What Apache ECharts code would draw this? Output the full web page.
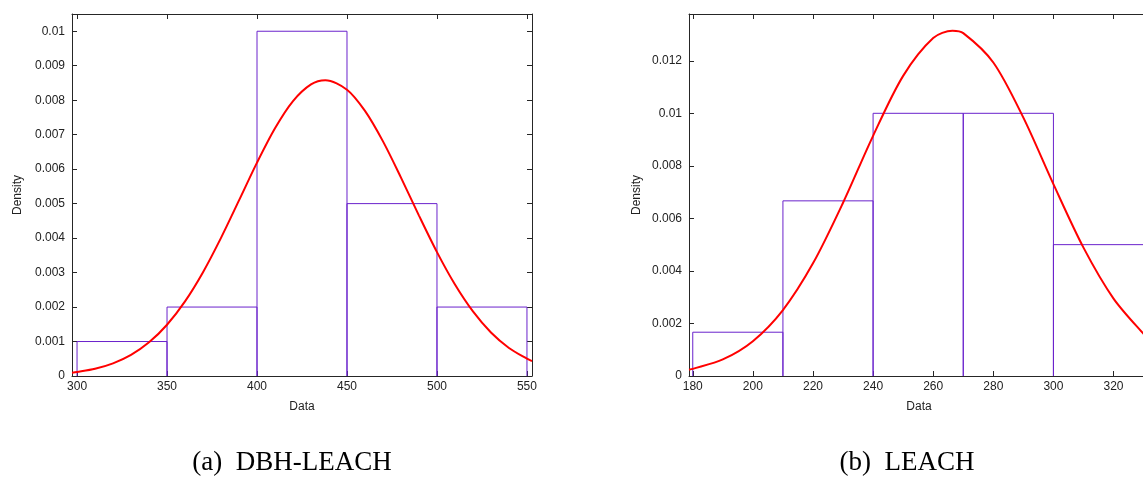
<!DOCTYPE html>
<html>
<head>
<meta charset="utf-8">
<script src="https://cdn.jsdelivr.net/npm/echarts@6/dist/echarts.min.js"></script>
<style>html,body{margin:0;padding:0;background:#fff;}#c{width:1143px;height:477px;}</style>
</head>
<body>
<div id="c"></div>
<script>
// ---------- DATA ----------
// (a) DBH-LEACH histogram bins: [start, end, density]
var binsA = [[300, 350, 0.001], [350, 400, 0.002], [400, 450, 0.010], [450, 500, 0.005], [500, 550, 0.002]];
// (a) fitted density curve: [x, density]
var curveA = [
  [297.2, 0.000095], [300, 0.000115], [310, 0.00021], [320, 0.000367], [330, 0.000612],
  [340, 0.000976], [350, 0.001487], [360, 0.002165], [370, 0.003012], [380, 0.004007],
  [390, 0.005093], [400, 0.006188], [410, 0.007185], [420, 0.007973], [430, 0.008457],
  [438, 0.00858], [450, 0.008305], [460, 0.007689], [470, 0.006805], [480, 0.005755],
  [490, 0.004653], [500, 0.003594], [510, 0.002654], [520, 0.001873], [530, 0.001263],
  [540, 0.000814], [550, 0.000502], [552.8, 0.00043]
];
var xTicksA = [300, 350, 400, 450, 500, 550];
var yTicksA = [0, 0.001, 0.002, 0.003, 0.004, 0.005, 0.006, 0.007, 0.008, 0.009, 0.01];

// (b) LEACH histogram bins
var binsB = [[180, 210, 0.001667], [210, 240, 0.006667], [240, 270, 0.010], [270, 300, 0.010], [300, 330, 0.005]];
var curveB = [
  [178.75, 0.000242], [180, 0.00027], [190, 0.00063], [200, 0.001326], [210, 0.002511],
  [220, 0.004288], [230, 0.006595], [240, 0.009143], [250, 0.011424], [260, 0.012863],
  [266.4, 0.01314], [270, 0.013052], [280, 0.011935], [290, 0.009834], [300, 0.007303],
  [310, 0.004887], [320, 0.002948], [330, 0.001602], [332, 0.0014]
];
var xTicksB = [180, 200, 220, 240, 260, 280, 300, 320];
var yTicksB = [0, 0.002, 0.004, 0.006, 0.008, 0.01, 0.012];

var captionA = '(a)  DBH-LEACH';
var captionB = '(b)  LEACH';
var xName = 'Data';
var yName = 'Density';

// ---------- CHART ----------
var AX = '#262626';
var BAR = '#6a22cc';
var RED = '#ff0000';
var labelFont = {fontFamily: 'Liberation Sans', fontSize: 12, color: '#222'};

// outline of each histogram bar, built from the bin arrays
function barOutlineSeries(bins, xi, yi) {
  return bins.map(function (b) {
    return {
      type: 'line', xAxisIndex: xi, yAxisIndex: yi,
      data: [[b[0], 0], [b[0], b[2]], [b[1], b[2]], [b[1], 0]],
      showSymbol: false, symbol: 'none', smooth: false, clip: true,
      lineStyle: {color: BAR, width: 1}, itemStyle: {color: BAR},
      emphasis: {disabled: true}, silent: true, z: 2
    };
  });
}

function xAx(grid, min, max, ticks, pos, showLabel, nameTxt, showLine) {
  return {
    type: 'value', gridIndex: grid, min: min, max: max, position: pos,
    splitLine: {show: false},
    axisLine: {show: showLine, onZero: false, lineStyle: {color: AX, width: 1}},
    axisTick: {show: showLine, inside: true, length: 5, lineStyle: {color: AX}, customValues: ticks},
    axisLabel: Object.assign({show: showLabel, margin: 5, customValues: ticks}, labelFont),
    name: nameTxt, nameLocation: 'middle', nameGap: 25,
    nameTextStyle: {fontFamily: 'Liberation Sans', fontSize: 12, color: '#222'}
  };
}
function yAx(grid, min, max, ticks, pos, showLabel, nameTxt, gap, showLine) {
  return {
    type: 'value', gridIndex: grid, min: min, max: max, position: pos,
    splitLine: {show: false},
    axisLine: {show: showLine, onZero: false, lineStyle: {color: AX, width: 1}},
    axisTick: {show: showLine, inside: true, length: 5, lineStyle: {color: AX}, customValues: ticks},
    axisLabel: Object.assign({show: showLabel, margin: 7, customValues: ticks}, labelFont),
    name: nameTxt, nameLocation: 'middle', nameGap: gap, nameRotate: 90,
    nameTextStyle: {fontFamily: 'Liberation Sans', fontSize: 12, color: '#222'}
  };
}

var series = []
  .concat(barOutlineSeries(binsA, 0, 0))
  .concat([{type: 'line', xAxisIndex: 0, yAxisIndex: 0, data: curveA, smooth: 0.3, showSymbol: false,
    symbol: 'none', lineStyle: {color: RED, width: 2}, silent: true, z: 3}])
  .concat(barOutlineSeries(binsB, 2, 2))
  .concat([{type: 'line', xAxisIndex: 2, yAxisIndex: 2, data: curveB, smooth: 0.3, showSymbol: false,
    symbol: 'none', lineStyle: {color: RED, width: 2}, silent: true, z: 3}]);

var chart = echarts.init(document.getElementById('c'), null, {renderer: 'canvas'});
chart.setOption({
  animation: false,
  backgroundColor: '#fff',
  grid: [
    {left: 72, width: 460, top: 14, bottom: 101, outerBoundsMode: 'none'},
    {left: 689, width: 460, top: 14, bottom: 101, outerBoundsMode: 'none'}
  ],
  xAxis: [
    xAx(0, 297.2, 552.8, xTicksA, 'bottom', true, xName, true),
    xAx(0, 297.2, 552.8, xTicksA, 'top', false, '', true),
    xAx(1, 178.75, 331.8, xTicksB, 'bottom', true, xName, true),
    xAx(1, 178.75, 331.8, xTicksB, 'top', false, '', true)
  ],
  yAxis: [
    yAx(0, 0, 0.0105, yTicksA, 'left', true, yName, 48, true),
    yAx(0, 0, 0.0105, yTicksA, 'right', false, '', 10, true),
    yAx(1, 0, 0.01378, yTicksB, 'left', true, yName, 46, true),
    yAx(1, 0, 0.01378, yTicksB, 'right', false, '', 10, false)
  ],
  series: series,
  graphic: [
    {type: 'text', position: [292, 463], style: {text: captionA, x: 0, y: 0, align: 'center', verticalAlign: 'middle',
      font: '27px "Liberation Serif"', fill: '#000'}},
    {type: 'text', position: [907, 463], style: {text: captionB, x: 0, y: 0, align: 'center', verticalAlign: 'middle',
      font: '27px "Liberation Serif"', fill: '#000'}}
  ]
});
</script>
</body>
</html>
